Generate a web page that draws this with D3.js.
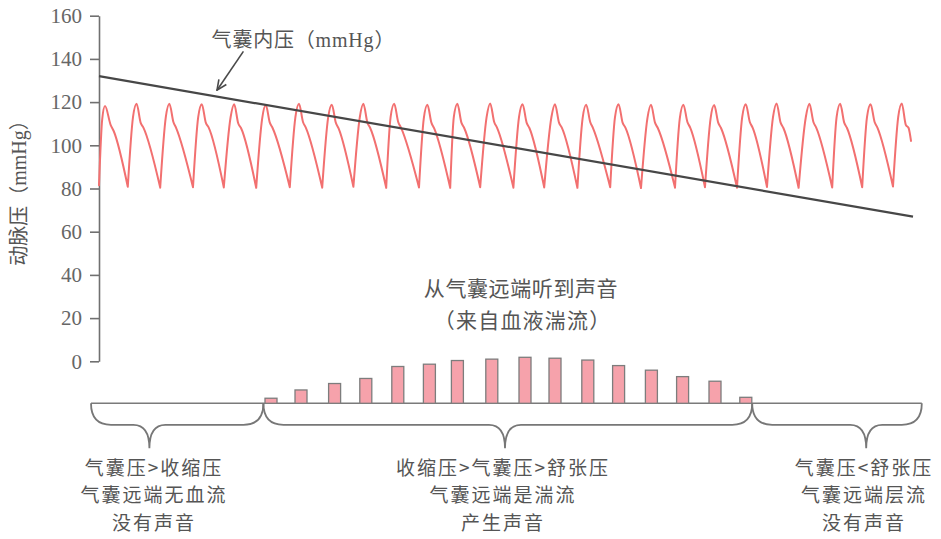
<!DOCTYPE html>
<html><head><meta charset="utf-8">
<script src="https://cdn.jsdelivr.net/npm/d3@7"></script>
<style>body{margin:0;background:#fff} svg{display:block}</style>
</head><body><svg id="c" width="941" height="539"></svg>
<script>
// ---------- data ----------
const yTicks = [0, 20, 40, 60, 80, 100, 120, 140, 160];
const yTitle = ["动脉压（", "mmHg", "）"];
const cuffLabel = ["气囊内压（", "mmHg", "）"];
// cuff pressure (straight decline), time in s
const cuffT = [0, 20.35];
const cuffV = [132, 67];
// arterial pressure trace [time s, mmHg]: trough, knee, peak, notch, shoulder ...
const pulse = [
  [0, 81.5], [0.08, 112], [0.15, 118.2], [0.29, 109.5], [0.37, 106.5], [0.72, 80.8],
  [0.85, 113], [0.94, 119.2], [1.04, 110.5], [1.11, 108.2], [1.53, 80.4],
  [1.67, 113], [1.76, 119.2], [1.86, 110.8], [1.93, 108.0], [2.35, 80.6],
  [2.48, 113], [2.57, 119.0], [2.67, 110.5], [2.74, 108.3], [3.12, 80.5],
  [3.29, 113], [3.38, 119.0], [3.48, 110.2], [3.55, 108.0], [3.93, 80.3],
  [4.08, 112.5], [4.17, 118.6], [4.27, 110.5], [4.34, 108.0], [4.77, 80.6],
  [4.91, 113], [5.00, 119.2], [5.10, 110.8], [5.17, 108.2], [5.58, 80.4],
  [5.73, 113], [5.82, 118.8], [5.92, 110.5], [5.99, 107.8], [6.36, 80.8],
  [6.52, 113], [6.61, 119.2], [6.71, 110.5], [6.78, 108.0], [7.18, 80.3],
  [7.29, 113], [7.38, 119.2], [7.48, 110.8], [7.55, 108.2], [8.00, 80.5],
  [8.12, 112.5], [8.21, 118.8], [8.31, 110.5], [8.38, 107.8], [8.78, 80.3],
  [8.87, 113], [8.96, 119.2], [9.06, 110.5], [9.13, 108.0], [9.53, 80.6],
  [9.69, 113], [9.78, 119.4], [9.88, 110.8], [9.95, 108.2], [10.36, 80.4],
  [10.50, 113], [10.59, 119.0], [10.69, 110.5], [10.76, 108.0], [11.13, 80.5],
  [11.31, 113], [11.40, 119.0], [11.50, 110.5], [11.57, 108.2], [11.96, 80.3],
  [12.09, 112.5], [12.18, 118.8], [12.28, 110.8], [12.35, 108.0], [12.78, 80.6],
  [12.90, 113], [12.99, 119.0], [13.09, 110.5], [13.16, 108.2], [13.55, 80.2],
  [13.71, 112.5], [13.80, 118.8], [13.90, 110.5], [13.97, 108.0], [14.40, 80.4],
  [14.52, 112.5], [14.61, 118.8], [14.71, 110.8], [14.78, 108.2], [15.15, 80.6],
  [15.29, 112.5], [15.38, 118.6], [15.48, 110.5], [15.55, 108.0], [15.95, 80.4],
  [16.08, 113], [16.17, 119.0], [16.27, 110.8], [16.34, 108.2], [16.70, 80.7],
  [16.85, 113], [16.94, 119.4], [17.04, 110.5], [17.11, 108.0], [17.49, 80.3],
  [17.67, 113], [17.76, 119.2], [17.86, 110.8], [17.93, 108.2], [18.33, 80.5],
  [18.44, 113], [18.53, 119.2], [18.63, 110.5], [18.70, 108.0], [19.08, 80.6],
  [19.20, 113], [19.29, 119.0], [19.39, 110.8], [19.46, 108.2], [19.85, 80.9],
  [19.98, 113], [20.07, 119.4], [20.17, 109.5], [20.24, 108.0], [20.30, 102]
];
// Korotkoff sounds: time (s) and relative loudness (0-100)
const soundT = [4.30, 5.05, 5.89, 6.67, 7.47, 8.26, 8.96, 9.82, 10.65, 11.40, 12.22, 12.99, 13.81, 14.59, 15.40, 16.17];
const soundV = [11, 29, 43, 54, 80, 85, 93, 96, 100, 98, 94, 82, 72, 58, 48, 13];
// phases (braces) on the time axis
const phaseEdges = [-0.2, 4.11, 16.33, 20.57];
const phaseTips = [1.26, 10.15, 19.18];
const phaseCenters = [1.375, 10.1, 19.125];
const phaseText = [
  ["气囊压>收缩压", "气囊远端无血流", "没有声音"],
  ["收缩压>气囊压>舒张压", "气囊远端是湍流", "产生声音"],
  ["气囊压<舒张压", "气囊远端层流", "没有声音"]
];
const soundLabel = ["从气囊远端听到声音", "（来自血液湍流）"];

// ---------- chart ----------
const svg = d3.select("#c");
const CJK = "'Noto Sans CJK SC', 'Noto Sans', sans-serif";
const SERIF = "'Liberation Serif', 'DejaVu Serif', serif";
const textCol = "#555";

const x = d3.scaleLinear().domain([0, 20.4]).range([99, 915]);
const y = d3.scaleLinear().domain([0, 160]).range([361.3, 15.7]);
const s = d3.scaleLinear().domain([0, 100]).range([403.3, 357.3]);
const baseY = s(0);

// y axis
const ax = svg.append("g").attr("transform", `translate(${x(0)},0)`)
  .call(d3.axisLeft(y).tickValues(yTicks).tickSize(9).tickSizeOuter(0).tickPadding(8));
ax.select(".domain").attr("stroke", "#707070").attr("stroke-width", 1.6);
ax.selectAll(".tick line").attr("stroke", "#707070").attr("stroke-width", 1.6);
ax.selectAll(".tick text").attr("font-family", SERIF).attr("font-size", 21).attr("fill", "#666");

// y title
const yt = svg.append("text").attr("transform", "translate(26,188) rotate(-90)")
  .attr("text-anchor", "middle").attr("font-size", 20).attr("fill", textCol);
yt.selectAll("tspan").data(yTitle).join("tspan")
  .attr("font-family", (d, i) => i === 1 ? SERIF : CJK).text(d => d);

// pulse trace: split at troughs so that troughs stay sharp
const segs = [];
let cur = [];
pulse.forEach(p => {
  cur.push(p);
  if (p[1] < 90 && cur.length > 1) { segs.push(cur); cur = [p]; }
});
if (cur.length > 1) segs.push(cur);
const pl = d3.line().x(d => x(d[0])).y(d => y(d[1])).curve(d3.curveMonotoneX);
svg.append("path").attr("d", segs.map(sg => pl(sg)).join(""))
  .attr("fill", "none").attr("stroke", "#f27070").attr("stroke-width", 2)
  .attr("stroke-linejoin", "round").attr("stroke-linecap", "round");

// cuff pressure line
svg.append("path").attr("d", d3.line().x(d => x(d[0])).y(d => y(d[1]))(cuffT.map((t, i) => [t, cuffV[i]])))
  .attr("fill", "none").attr("stroke", "#474747").attr("stroke-width", 2.2);

// annotation + arrow
svg.append("defs").append("marker").attr("id", "ah").attr("viewBox", "0 0 12 12")
  .attr("refX", 11).attr("refY", 6).attr("markerWidth", 12).attr("markerHeight", 12)
  .attr("markerUnits", "userSpaceOnUse").attr("orient", "auto")
  .append("path").attr("d", "M1,1.5 L11,6 L1,10.5").attr("fill", "none")
  .attr("stroke", "#4a4a4a").attr("stroke-width", 1.6);
svg.append("line").attr("x1", x(3.61)).attr("y1", y(143.5)).attr("x2", x(2.95)).attr("y2", y(125.5))
  .attr("stroke", "#4a4a4a").attr("stroke-width", 1.6).attr("marker-end", "url(#ah)");
const at = svg.append("text").attr("x", x(5.11)).attr("y", y(145.5))
  .attr("text-anchor", "middle").attr("font-size", 20).attr("letter-spacing", 0.8).attr("fill", textCol);
at.selectAll("tspan").data(cuffLabel).join("tspan")
  .attr("font-family", (d, i) => i === 1 ? SERIF : CJK).text(d => d);

// sound label
svg.selectAll("text.snd").data(soundLabel).join("text").attr("class", "snd")
  .attr("x", (d, i) => x(i ? 10.59 : 10.55)).attr("y", (d, i) => i ? 328 : 296)
  .attr("text-anchor", "middle").attr("font-family", CJK).attr("font-size", 21)
  .attr("letter-spacing", (d, i) => i ? 1.2 : 0.6).attr("fill", textCol).text(d => d);

// baseline
svg.append("line").attr("x1", x(phaseEdges[0])).attr("x2", x(phaseEdges[3]))
  .attr("y1", baseY).attr("y2", baseY).attr("stroke", "#7a7a7a").attr("stroke-width", 1.6);

// sound bars
svg.selectAll("rect.bar").data(soundT).join("rect").attr("class", "bar")
  .attr("x", d => x(d) - 6).attr("width", 12)
  .attr("y", (d, i) => s(soundV[i])).attr("height", (d, i) => baseY - s(soundV[i]))
  .attr("fill", "#f6a2ab").attr("stroke", "#7d7d7d").attr("stroke-width", 1.3);

// braces
function brace(x0, x1, xt) {
  const b = baseY, m = b + 21.5, tp = b + 45;
  return `M${x0},${b} C${x0},${b + 14} ${x0 + 6},${m} ${x0 + 20},${m} L${xt - 16},${m}` +
    ` C${xt - 6},${m} ${xt},${m + 7} ${xt},${tp} C${xt},${m + 7} ${xt + 6},${m} ${xt + 16},${m}` +
    ` L${x1 - 20},${m} C${x1 - 6},${m} ${x1},${b + 14} ${x1},${b}`;
}
svg.selectAll("path.brace").data(phaseTips).join("path").attr("class", "brace")
  .attr("d", (d, i) => brace(x(phaseEdges[i]), x(phaseEdges[i + 1]), x(d)))
  .attr("fill", "none").attr("stroke", "#777").attr("stroke-width", 1.8);

// phase texts
phaseText.forEach((lines, i) => {
  svg.selectAll(`text.ph${i}`).data(lines).join("text").attr("class", `ph${i}`)
    .attr("x", x(phaseCenters[i])).attr("y", (d, j) => 474.5 + j * 27.6)
    .attr("text-anchor", "middle").attr("font-family", CJK).attr("font-size", 19)
    .attr("letter-spacing", 2).attr("fill", textCol).text(d => d);
});
</script></body></html>
